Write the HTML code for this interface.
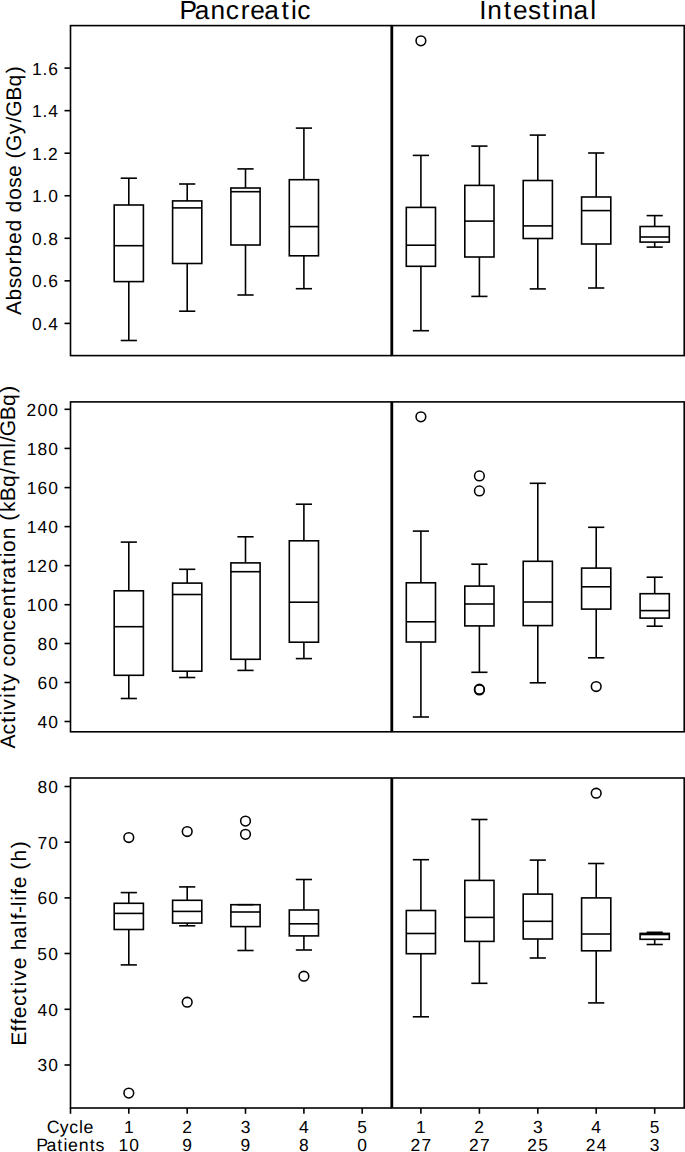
<!DOCTYPE html>
<html><head><meta charset="utf-8"><title>Boxplots</title>
<style>
html,body{margin:0;padding:0;background:#fff;}
body{width:685px;height:1152px;overflow:hidden;}
svg{display:block;}
text{font-family:"Liberation Sans", sans-serif;fill:#000;text-rendering:geometricPrecision;}
</style></head>
<body>
<svg width="685" height="1152" viewBox="0 0 685 1152">
<rect x="0" y="0" width="685" height="1152" fill="#fff"/>
<g stroke="#000" fill="none">
<rect x="70.5" y="25.6" width="320.70" height="330.00" fill="none" stroke-width="1.6"/>
<rect x="392.4" y="25.6" width="291.80" height="330.00" fill="none" stroke-width="1.6"/>
<line x1="128.80" y1="205.00" x2="128.80" y2="178.20" stroke-width="1.6" stroke-linecap="butt"/>
<line x1="128.80" y1="281.60" x2="128.80" y2="340.50" stroke-width="1.6" stroke-linecap="butt"/>
<line x1="121.50" y1="178.20" x2="136.10" y2="178.20" stroke-width="1.6" stroke-linecap="square"/>
<line x1="121.50" y1="340.50" x2="136.10" y2="340.50" stroke-width="1.6" stroke-linecap="square"/>
<rect x="114.20" y="205.00" width="29.20" height="76.60" fill="none" stroke-width="1.6" stroke-linejoin="miter"/>
<line x1="114.20" y1="245.70" x2="143.40" y2="245.70" stroke-width="1.6" stroke-linecap="butt"/>
<line x1="187.20" y1="200.90" x2="187.20" y2="184.00" stroke-width="1.6" stroke-linecap="butt"/>
<line x1="187.20" y1="263.50" x2="187.20" y2="311.20" stroke-width="1.6" stroke-linecap="butt"/>
<line x1="179.90" y1="184.00" x2="194.50" y2="184.00" stroke-width="1.6" stroke-linecap="square"/>
<line x1="179.90" y1="311.20" x2="194.50" y2="311.20" stroke-width="1.6" stroke-linecap="square"/>
<rect x="172.60" y="200.90" width="29.20" height="62.60" fill="none" stroke-width="1.6" stroke-linejoin="miter"/>
<line x1="172.60" y1="207.90" x2="201.80" y2="207.90" stroke-width="1.6" stroke-linecap="butt"/>
<line x1="245.50" y1="188.00" x2="245.50" y2="168.90" stroke-width="1.6" stroke-linecap="butt"/>
<line x1="245.50" y1="245.00" x2="245.50" y2="295.00" stroke-width="1.6" stroke-linecap="butt"/>
<line x1="238.20" y1="168.90" x2="252.80" y2="168.90" stroke-width="1.6" stroke-linecap="square"/>
<line x1="238.20" y1="295.00" x2="252.80" y2="295.00" stroke-width="1.6" stroke-linecap="square"/>
<rect x="230.90" y="188.00" width="29.20" height="57.00" fill="none" stroke-width="1.6" stroke-linejoin="miter"/>
<line x1="230.90" y1="191.70" x2="260.10" y2="191.70" stroke-width="1.6" stroke-linecap="butt"/>
<line x1="303.90" y1="179.70" x2="303.90" y2="128.10" stroke-width="1.6" stroke-linecap="butt"/>
<line x1="303.90" y1="255.80" x2="303.90" y2="288.70" stroke-width="1.6" stroke-linecap="butt"/>
<line x1="296.60" y1="128.10" x2="311.20" y2="128.10" stroke-width="1.6" stroke-linecap="square"/>
<line x1="296.60" y1="288.70" x2="311.20" y2="288.70" stroke-width="1.6" stroke-linecap="square"/>
<rect x="289.30" y="179.70" width="29.20" height="76.10" fill="none" stroke-width="1.6" stroke-linejoin="miter"/>
<line x1="289.30" y1="226.60" x2="318.50" y2="226.60" stroke-width="1.6" stroke-linecap="butt"/>
<line x1="420.90" y1="207.40" x2="420.90" y2="155.40" stroke-width="1.6" stroke-linecap="butt"/>
<line x1="420.90" y1="266.30" x2="420.90" y2="330.70" stroke-width="1.6" stroke-linecap="butt"/>
<line x1="413.60" y1="155.40" x2="428.20" y2="155.40" stroke-width="1.6" stroke-linecap="square"/>
<line x1="413.60" y1="330.70" x2="428.20" y2="330.70" stroke-width="1.6" stroke-linecap="square"/>
<rect x="406.30" y="207.40" width="29.20" height="58.90" fill="none" stroke-width="1.6" stroke-linejoin="miter"/>
<line x1="406.30" y1="245.20" x2="435.50" y2="245.20" stroke-width="1.6" stroke-linecap="butt"/>
<circle cx="420.90" cy="40.80" r="4.85" fill="none" stroke-width="1.55"/>
<line x1="479.40" y1="185.40" x2="479.40" y2="146.10" stroke-width="1.6" stroke-linecap="butt"/>
<line x1="479.40" y1="257.00" x2="479.40" y2="296.40" stroke-width="1.6" stroke-linecap="butt"/>
<line x1="472.10" y1="146.10" x2="486.70" y2="146.10" stroke-width="1.6" stroke-linecap="square"/>
<line x1="472.10" y1="296.40" x2="486.70" y2="296.40" stroke-width="1.6" stroke-linecap="square"/>
<rect x="464.80" y="185.40" width="29.20" height="71.60" fill="none" stroke-width="1.6" stroke-linejoin="miter"/>
<line x1="464.80" y1="221.10" x2="494.00" y2="221.10" stroke-width="1.6" stroke-linecap="butt"/>
<line x1="537.80" y1="180.50" x2="537.80" y2="135.10" stroke-width="1.6" stroke-linecap="butt"/>
<line x1="537.80" y1="238.50" x2="537.80" y2="288.90" stroke-width="1.6" stroke-linecap="butt"/>
<line x1="530.50" y1="135.10" x2="545.10" y2="135.10" stroke-width="1.6" stroke-linecap="square"/>
<line x1="530.50" y1="288.90" x2="545.10" y2="288.90" stroke-width="1.6" stroke-linecap="square"/>
<rect x="523.20" y="180.50" width="29.20" height="58.00" fill="none" stroke-width="1.6" stroke-linejoin="miter"/>
<line x1="523.20" y1="225.90" x2="552.40" y2="225.90" stroke-width="1.6" stroke-linecap="butt"/>
<line x1="596.20" y1="197.00" x2="596.20" y2="153.00" stroke-width="1.6" stroke-linecap="butt"/>
<line x1="596.20" y1="244.00" x2="596.20" y2="288.00" stroke-width="1.6" stroke-linecap="butt"/>
<line x1="588.90" y1="153.00" x2="603.50" y2="153.00" stroke-width="1.6" stroke-linecap="square"/>
<line x1="588.90" y1="288.00" x2="603.50" y2="288.00" stroke-width="1.6" stroke-linecap="square"/>
<rect x="581.60" y="197.00" width="29.20" height="47.00" fill="none" stroke-width="1.6" stroke-linejoin="miter"/>
<line x1="581.60" y1="210.60" x2="610.80" y2="210.60" stroke-width="1.6" stroke-linecap="butt"/>
<line x1="654.70" y1="226.50" x2="654.70" y2="215.60" stroke-width="1.6" stroke-linecap="butt"/>
<line x1="654.70" y1="242.10" x2="654.70" y2="247.10" stroke-width="1.6" stroke-linecap="butt"/>
<line x1="647.40" y1="215.60" x2="662.00" y2="215.60" stroke-width="1.6" stroke-linecap="square"/>
<line x1="647.40" y1="247.10" x2="662.00" y2="247.10" stroke-width="1.6" stroke-linecap="square"/>
<rect x="640.10" y="226.50" width="29.20" height="15.60" fill="none" stroke-width="1.6" stroke-linejoin="miter"/>
<line x1="640.10" y1="237.00" x2="669.30" y2="237.00" stroke-width="1.6" stroke-linecap="butt"/>
<line x1="64.50" y1="323.40" x2="70.50" y2="323.40" stroke-width="1.6" stroke-linecap="butt"/>
<line x1="64.50" y1="280.85" x2="70.50" y2="280.85" stroke-width="1.6" stroke-linecap="butt"/>
<line x1="64.50" y1="238.30" x2="70.50" y2="238.30" stroke-width="1.6" stroke-linecap="butt"/>
<line x1="64.50" y1="195.75" x2="70.50" y2="195.75" stroke-width="1.6" stroke-linecap="butt"/>
<line x1="64.50" y1="153.20" x2="70.50" y2="153.20" stroke-width="1.6" stroke-linecap="butt"/>
<line x1="64.50" y1="110.65" x2="70.50" y2="110.65" stroke-width="1.6" stroke-linecap="butt"/>
<line x1="64.50" y1="68.10" x2="70.50" y2="68.10" stroke-width="1.6" stroke-linecap="butt"/>
<rect x="70.5" y="401.9" width="320.70" height="329.90" fill="none" stroke-width="1.6"/>
<rect x="392.4" y="401.9" width="291.80" height="329.90" fill="none" stroke-width="1.6"/>
<line x1="128.80" y1="590.80" x2="128.80" y2="542.10" stroke-width="1.6" stroke-linecap="butt"/>
<line x1="128.80" y1="675.30" x2="128.80" y2="698.50" stroke-width="1.6" stroke-linecap="butt"/>
<line x1="121.50" y1="542.10" x2="136.10" y2="542.10" stroke-width="1.6" stroke-linecap="square"/>
<line x1="121.50" y1="698.50" x2="136.10" y2="698.50" stroke-width="1.6" stroke-linecap="square"/>
<rect x="114.20" y="590.80" width="29.20" height="84.50" fill="none" stroke-width="1.6" stroke-linejoin="miter"/>
<line x1="114.20" y1="626.70" x2="143.40" y2="626.70" stroke-width="1.6" stroke-linecap="butt"/>
<line x1="187.20" y1="583.10" x2="187.20" y2="569.30" stroke-width="1.6" stroke-linecap="butt"/>
<line x1="187.20" y1="671.20" x2="187.20" y2="677.50" stroke-width="1.6" stroke-linecap="butt"/>
<line x1="179.90" y1="569.30" x2="194.50" y2="569.30" stroke-width="1.6" stroke-linecap="square"/>
<line x1="179.90" y1="677.50" x2="194.50" y2="677.50" stroke-width="1.6" stroke-linecap="square"/>
<rect x="172.60" y="583.10" width="29.20" height="88.10" fill="none" stroke-width="1.6" stroke-linejoin="miter"/>
<line x1="172.60" y1="594.50" x2="201.80" y2="594.50" stroke-width="1.6" stroke-linecap="butt"/>
<line x1="245.50" y1="562.90" x2="245.50" y2="536.80" stroke-width="1.6" stroke-linecap="butt"/>
<line x1="245.50" y1="659.30" x2="245.50" y2="670.40" stroke-width="1.6" stroke-linecap="butt"/>
<line x1="238.20" y1="536.80" x2="252.80" y2="536.80" stroke-width="1.6" stroke-linecap="square"/>
<line x1="238.20" y1="670.40" x2="252.80" y2="670.40" stroke-width="1.6" stroke-linecap="square"/>
<rect x="230.90" y="562.90" width="29.20" height="96.40" fill="none" stroke-width="1.6" stroke-linejoin="miter"/>
<line x1="230.90" y1="571.70" x2="260.10" y2="571.70" stroke-width="1.6" stroke-linecap="butt"/>
<line x1="303.90" y1="540.80" x2="303.90" y2="504.20" stroke-width="1.6" stroke-linecap="butt"/>
<line x1="303.90" y1="642.20" x2="303.90" y2="658.60" stroke-width="1.6" stroke-linecap="butt"/>
<line x1="296.60" y1="504.20" x2="311.20" y2="504.20" stroke-width="1.6" stroke-linecap="square"/>
<line x1="296.60" y1="658.60" x2="311.20" y2="658.60" stroke-width="1.6" stroke-linecap="square"/>
<rect x="289.30" y="540.80" width="29.20" height="101.40" fill="none" stroke-width="1.6" stroke-linejoin="miter"/>
<line x1="289.30" y1="602.20" x2="318.50" y2="602.20" stroke-width="1.6" stroke-linecap="butt"/>
<line x1="420.90" y1="582.80" x2="420.90" y2="531.10" stroke-width="1.6" stroke-linecap="butt"/>
<line x1="420.90" y1="642.00" x2="420.90" y2="717.00" stroke-width="1.6" stroke-linecap="butt"/>
<line x1="413.60" y1="531.10" x2="428.20" y2="531.10" stroke-width="1.6" stroke-linecap="square"/>
<line x1="413.60" y1="717.00" x2="428.20" y2="717.00" stroke-width="1.6" stroke-linecap="square"/>
<rect x="406.30" y="582.80" width="29.20" height="59.20" fill="none" stroke-width="1.6" stroke-linejoin="miter"/>
<line x1="406.30" y1="621.80" x2="435.50" y2="621.80" stroke-width="1.6" stroke-linecap="butt"/>
<circle cx="420.90" cy="416.80" r="4.85" fill="none" stroke-width="1.55"/>
<line x1="479.40" y1="586.10" x2="479.40" y2="564.20" stroke-width="1.6" stroke-linecap="butt"/>
<line x1="479.40" y1="625.90" x2="479.40" y2="672.30" stroke-width="1.6" stroke-linecap="butt"/>
<line x1="472.10" y1="564.20" x2="486.70" y2="564.20" stroke-width="1.6" stroke-linecap="square"/>
<line x1="472.10" y1="672.30" x2="486.70" y2="672.30" stroke-width="1.6" stroke-linecap="square"/>
<rect x="464.80" y="586.10" width="29.20" height="39.80" fill="none" stroke-width="1.6" stroke-linejoin="miter"/>
<line x1="464.80" y1="604.00" x2="494.00" y2="604.00" stroke-width="1.6" stroke-linecap="butt"/>
<circle cx="479.40" cy="475.90" r="4.85" fill="none" stroke-width="1.55"/>
<circle cx="479.40" cy="490.90" r="4.85" fill="none" stroke-width="1.55"/>
<circle cx="479.40" cy="689.20" r="4.85" fill="none" stroke-width="1.55"/>
<circle cx="479.40" cy="689.90" r="4.85" fill="none" stroke-width="1.55"/>
<line x1="537.80" y1="561.30" x2="537.80" y2="483.30" stroke-width="1.6" stroke-linecap="butt"/>
<line x1="537.80" y1="625.60" x2="537.80" y2="682.80" stroke-width="1.6" stroke-linecap="butt"/>
<line x1="530.50" y1="483.30" x2="545.10" y2="483.30" stroke-width="1.6" stroke-linecap="square"/>
<line x1="530.50" y1="682.80" x2="545.10" y2="682.80" stroke-width="1.6" stroke-linecap="square"/>
<rect x="523.20" y="561.30" width="29.20" height="64.30" fill="none" stroke-width="1.6" stroke-linejoin="miter"/>
<line x1="523.20" y1="602.00" x2="552.40" y2="602.00" stroke-width="1.6" stroke-linecap="butt"/>
<line x1="596.20" y1="568.10" x2="596.20" y2="527.30" stroke-width="1.6" stroke-linecap="butt"/>
<line x1="596.20" y1="609.10" x2="596.20" y2="657.80" stroke-width="1.6" stroke-linecap="butt"/>
<line x1="588.90" y1="527.30" x2="603.50" y2="527.30" stroke-width="1.6" stroke-linecap="square"/>
<line x1="588.90" y1="657.80" x2="603.50" y2="657.80" stroke-width="1.6" stroke-linecap="square"/>
<rect x="581.60" y="568.10" width="29.20" height="41.00" fill="none" stroke-width="1.6" stroke-linejoin="miter"/>
<line x1="581.60" y1="586.80" x2="610.80" y2="586.80" stroke-width="1.6" stroke-linecap="butt"/>
<circle cx="596.20" cy="686.50" r="4.85" fill="none" stroke-width="1.55"/>
<line x1="654.70" y1="593.70" x2="654.70" y2="577.20" stroke-width="1.6" stroke-linecap="butt"/>
<line x1="654.70" y1="618.10" x2="654.70" y2="626.20" stroke-width="1.6" stroke-linecap="butt"/>
<line x1="647.40" y1="577.20" x2="662.00" y2="577.20" stroke-width="1.6" stroke-linecap="square"/>
<line x1="647.40" y1="626.20" x2="662.00" y2="626.20" stroke-width="1.6" stroke-linecap="square"/>
<rect x="640.10" y="593.70" width="29.20" height="24.40" fill="none" stroke-width="1.6" stroke-linejoin="miter"/>
<line x1="640.10" y1="610.60" x2="669.30" y2="610.60" stroke-width="1.6" stroke-linecap="butt"/>
<line x1="64.50" y1="721.50" x2="70.50" y2="721.50" stroke-width="1.6" stroke-linecap="butt"/>
<line x1="64.50" y1="682.50" x2="70.50" y2="682.50" stroke-width="1.6" stroke-linecap="butt"/>
<line x1="64.50" y1="643.50" x2="70.50" y2="643.50" stroke-width="1.6" stroke-linecap="butt"/>
<line x1="64.50" y1="604.70" x2="70.50" y2="604.70" stroke-width="1.6" stroke-linecap="butt"/>
<line x1="64.50" y1="565.60" x2="70.50" y2="565.60" stroke-width="1.6" stroke-linecap="butt"/>
<line x1="64.50" y1="526.60" x2="70.50" y2="526.60" stroke-width="1.6" stroke-linecap="butt"/>
<line x1="64.50" y1="487.60" x2="70.50" y2="487.60" stroke-width="1.6" stroke-linecap="butt"/>
<line x1="64.50" y1="448.40" x2="70.50" y2="448.40" stroke-width="1.6" stroke-linecap="butt"/>
<line x1="64.50" y1="409.30" x2="70.50" y2="409.30" stroke-width="1.6" stroke-linecap="butt"/>
<rect x="70.5" y="778.0" width="320.70" height="330.00" fill="none" stroke-width="1.6"/>
<rect x="392.4" y="778.0" width="291.80" height="330.00" fill="none" stroke-width="1.6"/>
<line x1="128.80" y1="903.30" x2="128.80" y2="892.60" stroke-width="1.6" stroke-linecap="butt"/>
<line x1="128.80" y1="929.50" x2="128.80" y2="964.90" stroke-width="1.6" stroke-linecap="butt"/>
<line x1="121.50" y1="892.60" x2="136.10" y2="892.60" stroke-width="1.6" stroke-linecap="square"/>
<line x1="121.50" y1="964.90" x2="136.10" y2="964.90" stroke-width="1.6" stroke-linecap="square"/>
<rect x="114.20" y="903.30" width="29.20" height="26.20" fill="none" stroke-width="1.6" stroke-linejoin="miter"/>
<line x1="114.20" y1="913.40" x2="143.40" y2="913.40" stroke-width="1.6" stroke-linecap="butt"/>
<circle cx="128.80" cy="837.50" r="4.85" fill="none" stroke-width="1.55"/>
<circle cx="128.80" cy="1093.10" r="4.85" fill="none" stroke-width="1.55"/>
<line x1="187.20" y1="900.30" x2="187.20" y2="886.90" stroke-width="1.6" stroke-linecap="butt"/>
<line x1="187.20" y1="923.10" x2="187.20" y2="925.80" stroke-width="1.6" stroke-linecap="butt"/>
<line x1="179.90" y1="886.90" x2="194.50" y2="886.90" stroke-width="1.6" stroke-linecap="square"/>
<line x1="179.90" y1="925.80" x2="194.50" y2="925.80" stroke-width="1.6" stroke-linecap="square"/>
<rect x="172.60" y="900.30" width="29.20" height="22.80" fill="none" stroke-width="1.6" stroke-linejoin="miter"/>
<line x1="172.60" y1="911.40" x2="201.80" y2="911.40" stroke-width="1.6" stroke-linecap="butt"/>
<circle cx="187.20" cy="831.50" r="4.85" fill="none" stroke-width="1.55"/>
<circle cx="187.20" cy="1002.20" r="4.85" fill="none" stroke-width="1.55"/>
<line x1="245.50" y1="904.70" x2="245.50" y2="904.70" stroke-width="1.6" stroke-linecap="butt"/>
<line x1="245.50" y1="926.60" x2="245.50" y2="950.50" stroke-width="1.6" stroke-linecap="butt"/>
<line x1="238.20" y1="904.70" x2="252.80" y2="904.70" stroke-width="1.6" stroke-linecap="square"/>
<line x1="238.20" y1="950.50" x2="252.80" y2="950.50" stroke-width="1.6" stroke-linecap="square"/>
<rect x="230.90" y="904.70" width="29.20" height="21.90" fill="none" stroke-width="1.6" stroke-linejoin="miter"/>
<line x1="230.90" y1="912.00" x2="260.10" y2="912.00" stroke-width="1.6" stroke-linecap="butt"/>
<circle cx="245.50" cy="821.10" r="4.85" fill="none" stroke-width="1.55"/>
<circle cx="245.50" cy="834.30" r="4.85" fill="none" stroke-width="1.55"/>
<line x1="303.90" y1="910.00" x2="303.90" y2="879.50" stroke-width="1.6" stroke-linecap="butt"/>
<line x1="303.90" y1="935.90" x2="303.90" y2="950.00" stroke-width="1.6" stroke-linecap="butt"/>
<line x1="296.60" y1="879.50" x2="311.20" y2="879.50" stroke-width="1.6" stroke-linecap="square"/>
<line x1="296.60" y1="950.00" x2="311.20" y2="950.00" stroke-width="1.6" stroke-linecap="square"/>
<rect x="289.30" y="910.00" width="29.20" height="25.90" fill="none" stroke-width="1.6" stroke-linejoin="miter"/>
<line x1="289.30" y1="923.80" x2="318.50" y2="923.80" stroke-width="1.6" stroke-linecap="butt"/>
<circle cx="303.90" cy="976.20" r="4.85" fill="none" stroke-width="1.55"/>
<line x1="420.90" y1="910.50" x2="420.90" y2="859.70" stroke-width="1.6" stroke-linecap="butt"/>
<line x1="420.90" y1="953.70" x2="420.90" y2="1016.80" stroke-width="1.6" stroke-linecap="butt"/>
<line x1="413.60" y1="859.70" x2="428.20" y2="859.70" stroke-width="1.6" stroke-linecap="square"/>
<line x1="413.60" y1="1016.80" x2="428.20" y2="1016.80" stroke-width="1.6" stroke-linecap="square"/>
<rect x="406.30" y="910.50" width="29.20" height="43.20" fill="none" stroke-width="1.6" stroke-linejoin="miter"/>
<line x1="406.30" y1="933.50" x2="435.50" y2="933.50" stroke-width="1.6" stroke-linecap="butt"/>
<line x1="479.40" y1="880.40" x2="479.40" y2="819.50" stroke-width="1.6" stroke-linecap="butt"/>
<line x1="479.40" y1="941.40" x2="479.40" y2="983.30" stroke-width="1.6" stroke-linecap="butt"/>
<line x1="472.10" y1="819.50" x2="486.70" y2="819.50" stroke-width="1.6" stroke-linecap="square"/>
<line x1="472.10" y1="983.30" x2="486.70" y2="983.30" stroke-width="1.6" stroke-linecap="square"/>
<rect x="464.80" y="880.40" width="29.20" height="61.00" fill="none" stroke-width="1.6" stroke-linejoin="miter"/>
<line x1="464.80" y1="917.40" x2="494.00" y2="917.40" stroke-width="1.6" stroke-linecap="butt"/>
<line x1="537.80" y1="894.10" x2="537.80" y2="860.10" stroke-width="1.6" stroke-linecap="butt"/>
<line x1="537.80" y1="939.00" x2="537.80" y2="958.00" stroke-width="1.6" stroke-linecap="butt"/>
<line x1="530.50" y1="860.10" x2="545.10" y2="860.10" stroke-width="1.6" stroke-linecap="square"/>
<line x1="530.50" y1="958.00" x2="545.10" y2="958.00" stroke-width="1.6" stroke-linecap="square"/>
<rect x="523.20" y="894.10" width="29.20" height="44.90" fill="none" stroke-width="1.6" stroke-linejoin="miter"/>
<line x1="523.20" y1="921.30" x2="552.40" y2="921.30" stroke-width="1.6" stroke-linecap="butt"/>
<line x1="596.20" y1="897.90" x2="596.20" y2="863.50" stroke-width="1.6" stroke-linecap="butt"/>
<line x1="596.20" y1="950.80" x2="596.20" y2="1002.90" stroke-width="1.6" stroke-linecap="butt"/>
<line x1="588.90" y1="863.50" x2="603.50" y2="863.50" stroke-width="1.6" stroke-linecap="square"/>
<line x1="588.90" y1="1002.90" x2="603.50" y2="1002.90" stroke-width="1.6" stroke-linecap="square"/>
<rect x="581.60" y="897.90" width="29.20" height="52.90" fill="none" stroke-width="1.6" stroke-linejoin="miter"/>
<line x1="581.60" y1="934.00" x2="610.80" y2="934.00" stroke-width="1.6" stroke-linecap="butt"/>
<circle cx="596.20" cy="793.20" r="4.85" fill="none" stroke-width="1.55"/>
<line x1="654.70" y1="933.40" x2="654.70" y2="932.30" stroke-width="1.6" stroke-linecap="butt"/>
<line x1="654.70" y1="939.30" x2="654.70" y2="944.50" stroke-width="1.6" stroke-linecap="butt"/>
<line x1="647.40" y1="932.30" x2="662.00" y2="932.30" stroke-width="1.6" stroke-linecap="square"/>
<line x1="647.40" y1="944.50" x2="662.00" y2="944.50" stroke-width="1.6" stroke-linecap="square"/>
<rect x="640.10" y="933.40" width="29.20" height="5.90" fill="none" stroke-width="1.6" stroke-linejoin="miter"/>
<line x1="640.10" y1="934.50" x2="669.30" y2="934.50" stroke-width="1.6" stroke-linecap="butt"/>
<line x1="64.50" y1="1065.00" x2="70.50" y2="1065.00" stroke-width="1.6" stroke-linecap="butt"/>
<line x1="64.50" y1="1009.30" x2="70.50" y2="1009.30" stroke-width="1.6" stroke-linecap="butt"/>
<line x1="64.50" y1="953.50" x2="70.50" y2="953.50" stroke-width="1.6" stroke-linecap="butt"/>
<line x1="64.50" y1="897.90" x2="70.50" y2="897.90" stroke-width="1.6" stroke-linecap="butt"/>
<line x1="64.50" y1="842.20" x2="70.50" y2="842.20" stroke-width="1.6" stroke-linecap="butt"/>
<line x1="64.50" y1="786.50" x2="70.50" y2="786.50" stroke-width="1.6" stroke-linecap="butt"/>
<line x1="70.50" y1="1108.00" x2="70.50" y2="1113.80" stroke-width="1.6" stroke-linecap="butt"/>
<line x1="128.80" y1="1108.00" x2="128.80" y2="1113.80" stroke-width="1.6" stroke-linecap="butt"/>
<line x1="187.20" y1="1108.00" x2="187.20" y2="1113.80" stroke-width="1.6" stroke-linecap="butt"/>
<line x1="245.50" y1="1108.00" x2="245.50" y2="1113.80" stroke-width="1.6" stroke-linecap="butt"/>
<line x1="303.90" y1="1108.00" x2="303.90" y2="1113.80" stroke-width="1.6" stroke-linecap="butt"/>
<line x1="362.20" y1="1108.00" x2="362.20" y2="1113.80" stroke-width="1.6" stroke-linecap="butt"/>
<line x1="420.90" y1="1108.00" x2="420.90" y2="1113.80" stroke-width="1.6" stroke-linecap="butt"/>
<line x1="479.40" y1="1108.00" x2="479.40" y2="1113.80" stroke-width="1.6" stroke-linecap="butt"/>
<line x1="537.80" y1="1108.00" x2="537.80" y2="1113.80" stroke-width="1.6" stroke-linecap="butt"/>
<line x1="596.20" y1="1108.00" x2="596.20" y2="1113.80" stroke-width="1.6" stroke-linecap="butt"/>
<line x1="654.70" y1="1108.00" x2="654.70" y2="1113.80" stroke-width="1.6" stroke-linecap="butt"/>
</g>
<g>
<text x="32.06 42.54 48.18" y="329.80" font-size="17.41">0.4</text>
<text x="32.06 42.54 48.22" y="287.25" font-size="17.41">0.6</text>
<text x="32.06 42.54 48.18" y="244.70" font-size="17.41">0.8</text>
<text x="32.01 42.54 48.18" y="202.15" font-size="17.41">1.0</text>
<text x="32.01 42.54 47.97" y="159.60" font-size="17.41">1.2</text>
<text x="32.01 42.54 48.18" y="117.05" font-size="17.41">1.4</text>
<text x="32.01 42.54 48.22" y="74.50" font-size="17.41">1.6</text>
<text x="37.43 48.18" y="727.90" font-size="17.41">40</text>
<text x="37.47 48.18" y="688.90" font-size="17.41">60</text>
<text x="37.43 48.18" y="649.90" font-size="17.41">80</text>
<text x="26.63 37.43 48.18" y="611.10" font-size="17.41">100</text>
<text x="26.63 37.22 48.18" y="572.00" font-size="17.41">120</text>
<text x="26.63 37.43 48.18" y="533.00" font-size="17.41">140</text>
<text x="26.63 37.47 48.18" y="494.00" font-size="17.41">160</text>
<text x="26.63 37.43 48.18" y="454.80" font-size="17.41">180</text>
<text x="26.47 37.43 48.18" y="415.70" font-size="17.41">200</text>
<text x="37.43 48.18" y="1071.40" font-size="17.41">30</text>
<text x="37.43 48.18" y="1015.70" font-size="17.41">40</text>
<text x="37.35 48.18" y="959.90" font-size="17.41">50</text>
<text x="37.47 48.18" y="904.30" font-size="17.41">60</text>
<text x="37.39 48.18" y="848.60" font-size="17.41">70</text>
<text x="37.43 48.18" y="792.90" font-size="17.41">80</text>
<text x="46.84 59.76 69.20 78.92 83.47" y="1132.60" font-size="17.75">Cycle</text>
<text x="36.17 46.44 57.27 63.50 68.06 78.67 89.70 95.56" y="1150.90" font-size="17.75">Patients</text>
<text x="123.91" y="1132.60" font-size="17.41">1</text>
<text x="118.53 129.34" y="1150.90" font-size="17.41">10</text>
<text x="182.15" y="1132.60" font-size="17.41">2</text>
<text x="182.32" y="1150.90" font-size="17.41">9</text>
<text x="240.66" y="1132.60" font-size="17.41">3</text>
<text x="240.62" y="1150.90" font-size="17.41">9</text>
<text x="299.06" y="1132.60" font-size="17.41">4</text>
<text x="299.06" y="1150.90" font-size="17.41">8</text>
<text x="357.27" y="1132.60" font-size="17.41">5</text>
<text x="357.36" y="1150.90" font-size="17.41">0</text>
<text x="416.01" y="1132.60" font-size="17.41">1</text>
<text x="410.47 421.39" y="1150.90" font-size="17.41">27</text>
<text x="474.35" y="1132.60" font-size="17.41">2</text>
<text x="468.97 479.89" y="1150.90" font-size="17.41">27</text>
<text x="532.96" y="1132.60" font-size="17.41">3</text>
<text x="527.37 538.25" y="1150.90" font-size="17.41">25</text>
<text x="591.36" y="1132.60" font-size="17.41">4</text>
<text x="585.77 596.74" y="1150.90" font-size="17.41">24</text>
<text x="649.77" y="1132.60" font-size="17.41">5</text>
<text x="649.86" y="1150.90" font-size="17.41">3</text>
<text x="179.39 194.73 210.41 225.68 240.83 250.37 264.32 281.59 290.89 297.31" y="18.90" font-size="26.26">Pancreatic</text>
<text x="479.19 487.31 503.77 512.90 528.09 542.36 551.66 558.83 573.48 590.16" y="18.90" font-size="26.26">Intestinal</text>
<text transform="translate(20.80,190.55) rotate(-90)" x="-124.48 -109.90 -97.68 -86.97 -73.91 -66.02 -53.53 -41.03 -29.32 -21.84 -9.22 2.88 13.65 25.35 32.01 39.55 56.23 67.95 73.87 89.75 104.15 117.40" y="0" font-size="21.05">Absorbed dose (Gy/GBq)</text>
<text transform="translate(15.30,567.00) rotate(-90)" x="-181.45 -167.50 -155.82 -148.40 -142.63 -130.88 -124.81 -117.21 -106.69 -99.56 -88.20 -75.57 -63.40 -51.99 -39.34 -26.20 -18.25 -11.48 2.32 9.74 15.13 27.76 39.46 46.25 54.93 65.73 80.12 92.92 100.36 119.35 124.92 130.84 146.72 161.12 174.37" y="0" font-size="21.05">Activity concentration (kBq/ml/GBq)</text>
<text transform="translate(25.80,943.20) rotate(-90)" x="-102.56 -88.29 -81.20 -74.94 -62.88 -50.85 -43.42 -37.65 -26.06 -14.36 -7.07 4.67 17.99 23.95 30.27 36.84 42.44 48.40 54.97 66.68 73.34 81.82 94.96" y="0" font-size="21.05">Effective half-life (h)</text>
</g>
</svg>
</body></html>
